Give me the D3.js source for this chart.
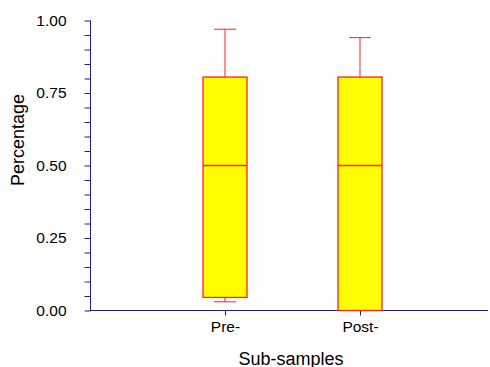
<!DOCTYPE html>
<html>
<head>
<meta charset="utf-8">
<script src="https://cdn.jsdelivr.net/npm/d3@7"></script>
<style>
  html, body { margin: 0; padding: 0; background: #fff; }
  svg { display: block; }
  text { font-family: Arial, "Liberation Sans", sans-serif; fill: #000; }
</style>
</head>
<body>
<svg id="chart" width="490" height="367"></svg>
<script>
// ---- data ----
const categories = ["Pre-", "Post-"];
const whiskerLow  = [0.030, 0.000];
const q1          = [0.045, 0.000];
const medians     = [0.500, 0.500];
const q3          = [0.805, 0.805];
const whiskerHigh = [0.970, 0.941];
const yTicks = [0, 0.25, 0.5, 0.75, 1.0];
const yTickLabels = ["0.00", "0.25", "0.50", "0.75", "1.00"];
const xTitle = "Sub-samples";
const yTitle = "Percentage";

(function () {
  const svg = d3.select("#chart");
  const axisColor = "#1c1c8e";
  const mLeft = 90, mRight = 488, mTop = 20.5, mBottom = 310.5;

  const x = d3.scaleLinear().domain([0, categories.length + 1]).range([mLeft, 495]);
  const y = d3.scaleLinear().domain([0, 1]).range([mBottom, mTop]);
  const boxW = 44, capW = 22;

  // y axis
  const yAxis = d3.axisLeft(y)
    .tickValues(d3.range(0, 1.0001, 0.05))
    .tickSize(6)
    .tickFormat(d => {
      const i = yTicks.findIndex(t => Math.abs(t - d) < 1e-6);
      return i >= 0 ? yTickLabels[i] : "";
    });
  const gy = svg.append("g").attr("transform", `translate(${mLeft},0)`).call(yAxis);
  gy.select(".domain").attr("stroke", axisColor).attr("d", `M0.5,${mTop}V${mBottom}`);
  gy.selectAll(".tick line").attr("stroke", axisColor).attr("x1", 0.5).attr("x2", -5.5);
  gy.selectAll(".tick text")
    .attr("x", -23.5)
    .style("font-size", "15.5px")
    .style("font-family", "Arial, 'Liberation Sans', sans-serif")
    .attr("fill", "#000");

  // x axis
  const xAxis = d3.axisBottom(x)
    .tickValues(categories.map((c, i) => i + 1))
    .tickSize(5)
    .tickFormat((d) => categories[d - 1]);
  const gx = svg.append("g").attr("transform", `translate(0,${mBottom})`).call(xAxis);
  gx.select(".domain").attr("stroke", axisColor).attr("d", `M${mLeft},0H${mRight}`);
  gx.selectAll(".tick line").attr("stroke", axisColor);
  gx.selectAll(".tick text")
    .attr("y", 10)
    .style("font-size", "15.5px")
    .style("font-family", "Arial, 'Liberation Sans', sans-serif")
    .attr("fill", "#000");

  // boxes
  const g = svg.append("g");
  const red = "#ff2020";
  categories.forEach((c, i) => {
    const cx = x(i + 1);
    g.append("line").attr("x1", cx).attr("x2", cx)
      .attr("y1", y(q3[i])).attr("y2", y(whiskerHigh[i]))
      .attr("stroke", red).attr("stroke-width", 1);
    g.append("line").attr("x1", cx - capW / 2).attr("x2", cx + capW / 2)
      .attr("y1", y(whiskerHigh[i])).attr("y2", y(whiskerHigh[i]))
      .attr("stroke", red).attr("stroke-width", 1);
    if (whiskerLow[i] < q1[i]) {
      g.append("line").attr("x1", cx).attr("x2", cx)
        .attr("y1", y(q1[i])).attr("y2", y(whiskerLow[i]))
        .attr("stroke", red).attr("stroke-width", 1);
      g.append("line").attr("x1", cx - capW / 2).attr("x2", cx + capW / 2)
        .attr("y1", y(whiskerLow[i])).attr("y2", y(whiskerLow[i]))
        .attr("stroke", red).attr("stroke-width", 1);
    }
    g.append("rect")
      .attr("x", cx - boxW / 2).attr("width", boxW)
      .attr("y", y(q3[i])).attr("height", y(q1[i]) - y(q3[i]))
      .attr("fill", "#ffff00").attr("stroke", red).attr("stroke-width", 1.3);
    g.append("line").attr("x1", cx - boxW / 2).attr("x2", cx + boxW / 2)
      .attr("y1", y(medians[i])).attr("y2", y(medians[i]))
      .attr("stroke", red).attr("stroke-width", 1.3);
  });

  // titles
  svg.append("text")
    .attr("x", (mLeft + mRight) / 2 + 2).attr("y", 364.5)
    .attr("text-anchor", "middle")
    .style("font-size", "18px")
    .text(xTitle);
  svg.append("text")
    .attr("transform", `translate(24,140) rotate(-90)`)
    .attr("text-anchor", "middle")
    .style("font-size", "18px")
    .text(yTitle);
})();
</script>
</body>
</html>
